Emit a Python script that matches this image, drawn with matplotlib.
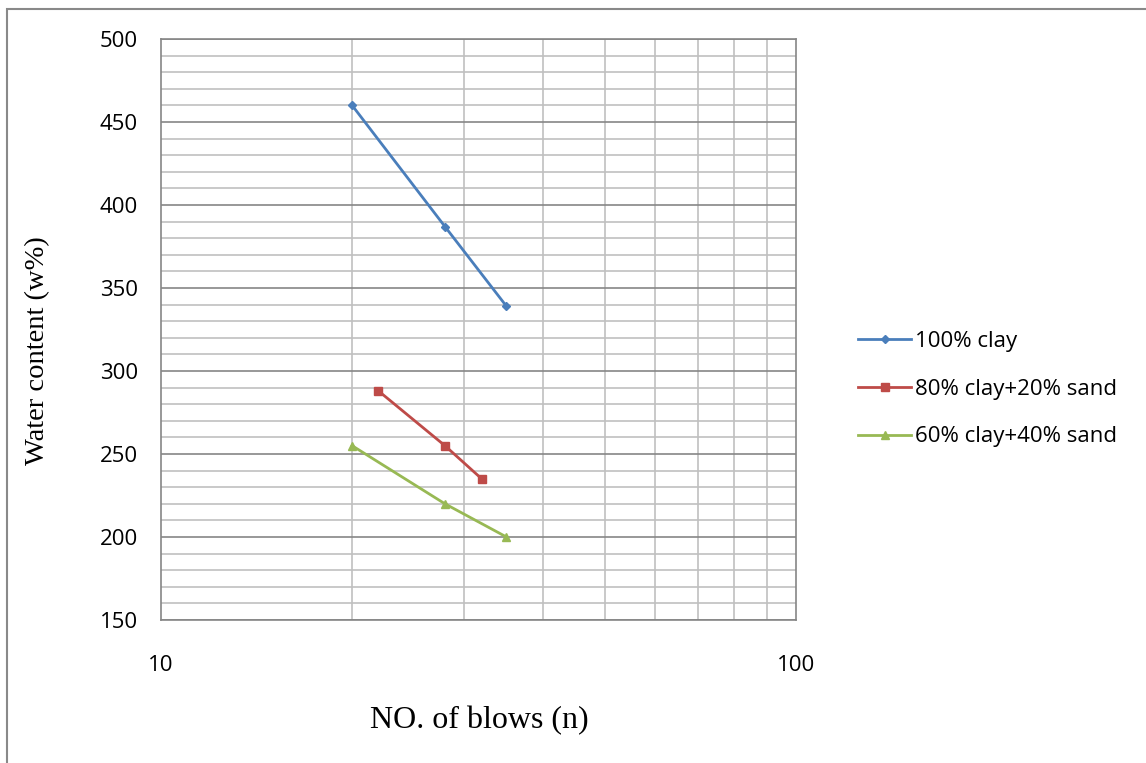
import matplotlib
matplotlib.use("Agg")
from matplotlib import pyplot as plt
from matplotlib.patches import Rectangle
from matplotlib.ticker import FixedLocator, NullFormatter

# blows vs water content for each mix
blows_clay = [20, 28, 35]
water_clay = [460, 387, 339]
blows_8020 = [22, 28, 32]
water_8020 = [288, 255, 235]
blows_6040 = [20, 28, 35]
water_6040 = [255, 220, 200]
labels = ["100% clay", "80% clay+20% sand", "60% clay+40% sand"]

fig = plt.figure(figsize=(11.46, 7.63), dpi=100)
W, H = 1146, 763

# outer chart border (right and bottom edges fall outside the image)
fig.patches.append(Rectangle((7 / W, -0.1), 1.2, 1.1 - 9 / H, transform=fig.transFigure,
                             fill=False, edgecolor='#898989', linewidth=1.5))

ax = fig.add_axes([161 / W, 1 - 620 / H, (796 - 161) / W, (620 - 39) / H])
ax.set_xscale('log')
ax.set_xlim(10, 100)
ax.set_ylim(150, 500)

ax.plot(blows_clay, water_clay, color='#4A7EBB', marker='D', markersize=4, linewidth=2, label=labels[0])
ax.plot(blows_8020, water_8020, color='#BE4B48', marker='s', markersize=5.5, linewidth=2, label=labels[1])
ax.plot(blows_6040, water_6040, color='#98B954', marker='^', markersize=6, linewidth=2, label=labels[2])

ax.xaxis.set_major_locator(FixedLocator([10, 100]))
ax.xaxis.set_minor_locator(FixedLocator([20, 30, 40, 50, 60, 70, 80, 90]))
ax.xaxis.set_minor_formatter(NullFormatter())
ax.set_xticklabels(["10", "100"])
ax.yaxis.set_major_locator(FixedLocator(range(150, 501, 50)))
ax.yaxis.set_minor_locator(FixedLocator(range(150, 501, 10)))

ax.grid(which='major', axis='y', color='#868686', linewidth=1.2)
ax.grid(which='minor', axis='y', color='#C0C0C0', linewidth=1.2)
ax.grid(which='minor', axis='x', color='#C0C0C0', linewidth=1.2)
ax.set_axisbelow(True)
for s in ax.spines.values():
    s.set_color('#868686')
    s.set_linewidth(1.2)
ax.tick_params(which='both', length=0)
ax.tick_params(axis='y', pad=16.5, labelsize=16)
ax.tick_params(axis='x', pad=25, labelsize=16)
for t in ax.get_xticklabels() + ax.get_yticklabels():
    t.set_family('Open Sans')

fig.text(38 / W, 1 - 351 / H, "Water content (w%)", rotation=90, ha='center', va='center',
         family='Liberation Serif', fontsize=20.5)
fig.text(479 / W, 1 - 721 / H, "NO. of blows (n)", ha='center', va='center',
         family='Liberation Serif', fontsize=23)

ax.legend(loc='center left', bbox_to_anchor=(838 / W, 1 - 389 / H), bbox_transform=fig.transFigure,
          frameon=False, handlelength=2.4, handletextpad=0.18, labelspacing=1.21,
          prop={'family': 'Open Sans', 'size': 16})

fig.savefig("out.png", dpi=100)
